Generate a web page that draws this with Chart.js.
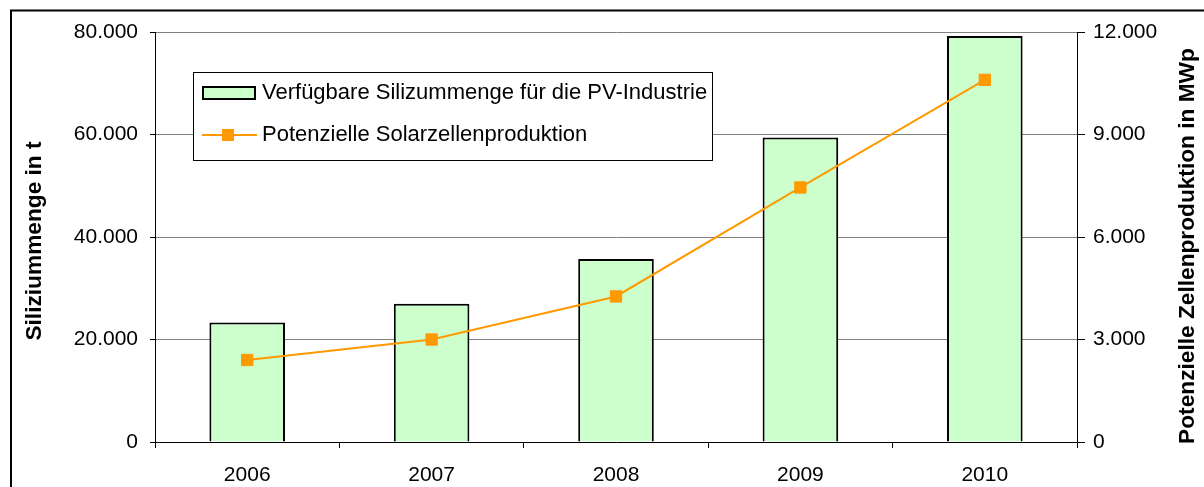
<!DOCTYPE html>
<html><head><meta charset="utf-8">
<script src="https://cdn.jsdelivr.net/npm/chart.js@4"></script>
<style>html,body{margin:0;padding:0;background:#fff;overflow:hidden}</style>
</head><body>
<canvas id="c" width="1204" height="487" style="display:block;width:1204px;height:487px"></canvas>
<script>
const categories = ['2006', '2007', '2008', '2009', '2010'];
const siliconTonnes = [23300, 27000, 35700, 59400, 79200];
const cellProductionMWp = [2400, 3000, 4260, 7450, 10600];
const leftTicks = [0, 20000, 40000, 60000, 80000];
const rightTicks = [0, 3000, 6000, 9000, 12000];
const seriesLabels = ['Verfügbare Silizummenge für die PV-Industrie', 'Potenzielle Solarzellenproduktion'];
const axisTitles = ['Siliziummenge in t', 'Potenzielle Zellenproduktion in MWp'];

const FONT = '"Liberation Sans", Arial, sans-serif';
const fmt = v => String(v).replace(/\B(?=(\d{3})+(?!\d))/g, '.');

const decor = {
  id: 'decor',
  beforeDraw(chart) {
    const ctx = chart.ctx;
    ctx.save();
    ctx.fillStyle = '#fff';
    ctx.fillRect(0, 0, chart.width, chart.height);
    ctx.restore();
  },
  afterDraw(chart) {
    const ctx = chart.ctx;
    const ca = chart.chartArea;
    ctx.save();
    // axis titles
    ctx.fillStyle = '#000';
    ctx.font = 'bold 22.7px ' + FONT;
    ctx.textAlign = 'center';
    ctx.textBaseline = 'middle';
    ctx.save(); ctx.translate(35, 241); ctx.rotate(-Math.PI / 2); ctx.fillText(axisTitles[0], 0, 0); ctx.restore();
    ctx.save(); ctx.translate(ca.right + 111, 246); ctx.rotate(-Math.PI / 2); ctx.fillText(axisTitles[1], 0, 0); ctx.restore();

    // legend
    const bx = ca.left + 38, by = ca.top + 40, bw = 519, bh = 88;
    ctx.fillStyle = '#fff';
    ctx.fillRect(bx, by, bw, bh);
    ctx.strokeStyle = '#000';
    ctx.lineWidth = 1;
    ctx.strokeRect(bx + 0.5, by + 0.5, bw, bh);
    const barDs = chart.data.datasets[1];
    const lineDs = chart.data.datasets[0];
    const r1 = by + 21, r2 = by + 63;
    ctx.fillStyle = barDs.backgroundColor;
    ctx.fillRect(bx + 10, r1 - 6, 52, 12);
    ctx.strokeStyle = barDs.borderColor;
    ctx.lineWidth = 2;
    ctx.strokeRect(bx + 10, r1 - 6, 52, 12);
    ctx.strokeStyle = lineDs.borderColor;
    ctx.lineWidth = 2;
    ctx.beginPath(); ctx.moveTo(bx + 9, r2); ctx.lineTo(bx + 64, r2); ctx.stroke();
    ctx.fillStyle = lineDs.pointBackgroundColor;
    ctx.fillRect(bx + 35 - 6, r2 - 6, 12, 12);
    ctx.fillStyle = '#000';
    ctx.font = '22px ' + FONT;
    ctx.textAlign = 'left';
    ctx.fillText(barDs.label, bx + 69, r1);
    ctx.fillText(lineDs.label, bx + 69, r2);

    // outer frame
    ctx.strokeStyle = '#000';
    ctx.lineWidth = 2;
    ctx.strokeRect(11, 10.5, chart.width + 20, chart.height + 20);
    ctx.restore();
  }
};

new Chart(document.getElementById('c'), {
  type: 'bar',
  data: {
    labels: categories,
    datasets: [
      {
        type: 'line',
        label: seriesLabels[1],
        data: cellProductionMWp,
        yAxisID: 'y1',
        order: 0,
        borderColor: '#FF9900',
        borderWidth: 2,
        pointStyle: 'rect',
        pointRadius: 8,
        pointBackgroundColor: '#FF9900',
        pointBorderColor: '#FF9900',
        pointBorderWidth: 1,
        tension: 0,
        fill: false
      },
      {
        type: 'bar',
        label: seriesLabels[0],
        data: siliconTonnes,
        yAxisID: 'y',
        order: 1,
        backgroundColor: '#CCFFCC',
        borderColor: '#000000',
        borderWidth: 2,
        barPercentage: 0.41,
        categoryPercentage: 1
      }
    ]
  },
  options: {
    responsive: false,
    devicePixelRatio: 1,
    animation: false,
    layout: { padding: { top: 32, left: 0, right: 0, bottom: 0 } },
    plugins: { legend: { display: false }, tooltip: { enabled: false }, title: { display: false } },
    scales: {
      x: {
        grid: { display: true, drawOnChartArea: false, drawTicks: true, tickLength: 6, color: '#000', offset: true },
        border: { display: true, color: '#000', width: 1 },
        ticks: { font: { family: FONT, size: 21 }, color: '#000', padding: 15, maxRotation: 0 },
        afterFit: s => { s.height = 45; }
      },
      y: {
        position: 'left',
        min: 0, max: 80000,
        afterBuildTicks: s => { s.ticks = leftTicks.map(v => ({ value: v })); },
        ticks: { font: { family: FONT, size: 21 }, color: '#000', padding: 12, callback: v => fmt(v) },
        grid: { color: '#808080', tickLength: 5, tickColor: '#000', lineWidth: 1 },
        border: { display: true, color: '#000', width: 1 },
        afterFit: s => { s.width = 155; }
      },
      y1: {
        position: 'right',
        min: 0, max: 12000,
        afterBuildTicks: s => { s.ticks = rightTicks.map(v => ({ value: v })); },
        ticks: { font: { family: FONT, size: 21 }, color: '#000', padding: 8, callback: v => fmt(v) },
        grid: { drawOnChartArea: false, tickLength: 8, tickColor: '#000' },
        border: { display: true, color: '#000', width: 1 },
        afterFit: s => { s.width = 127; }
      }
    }
  },
  plugins: [decor]
});
</script>
</body></html>
